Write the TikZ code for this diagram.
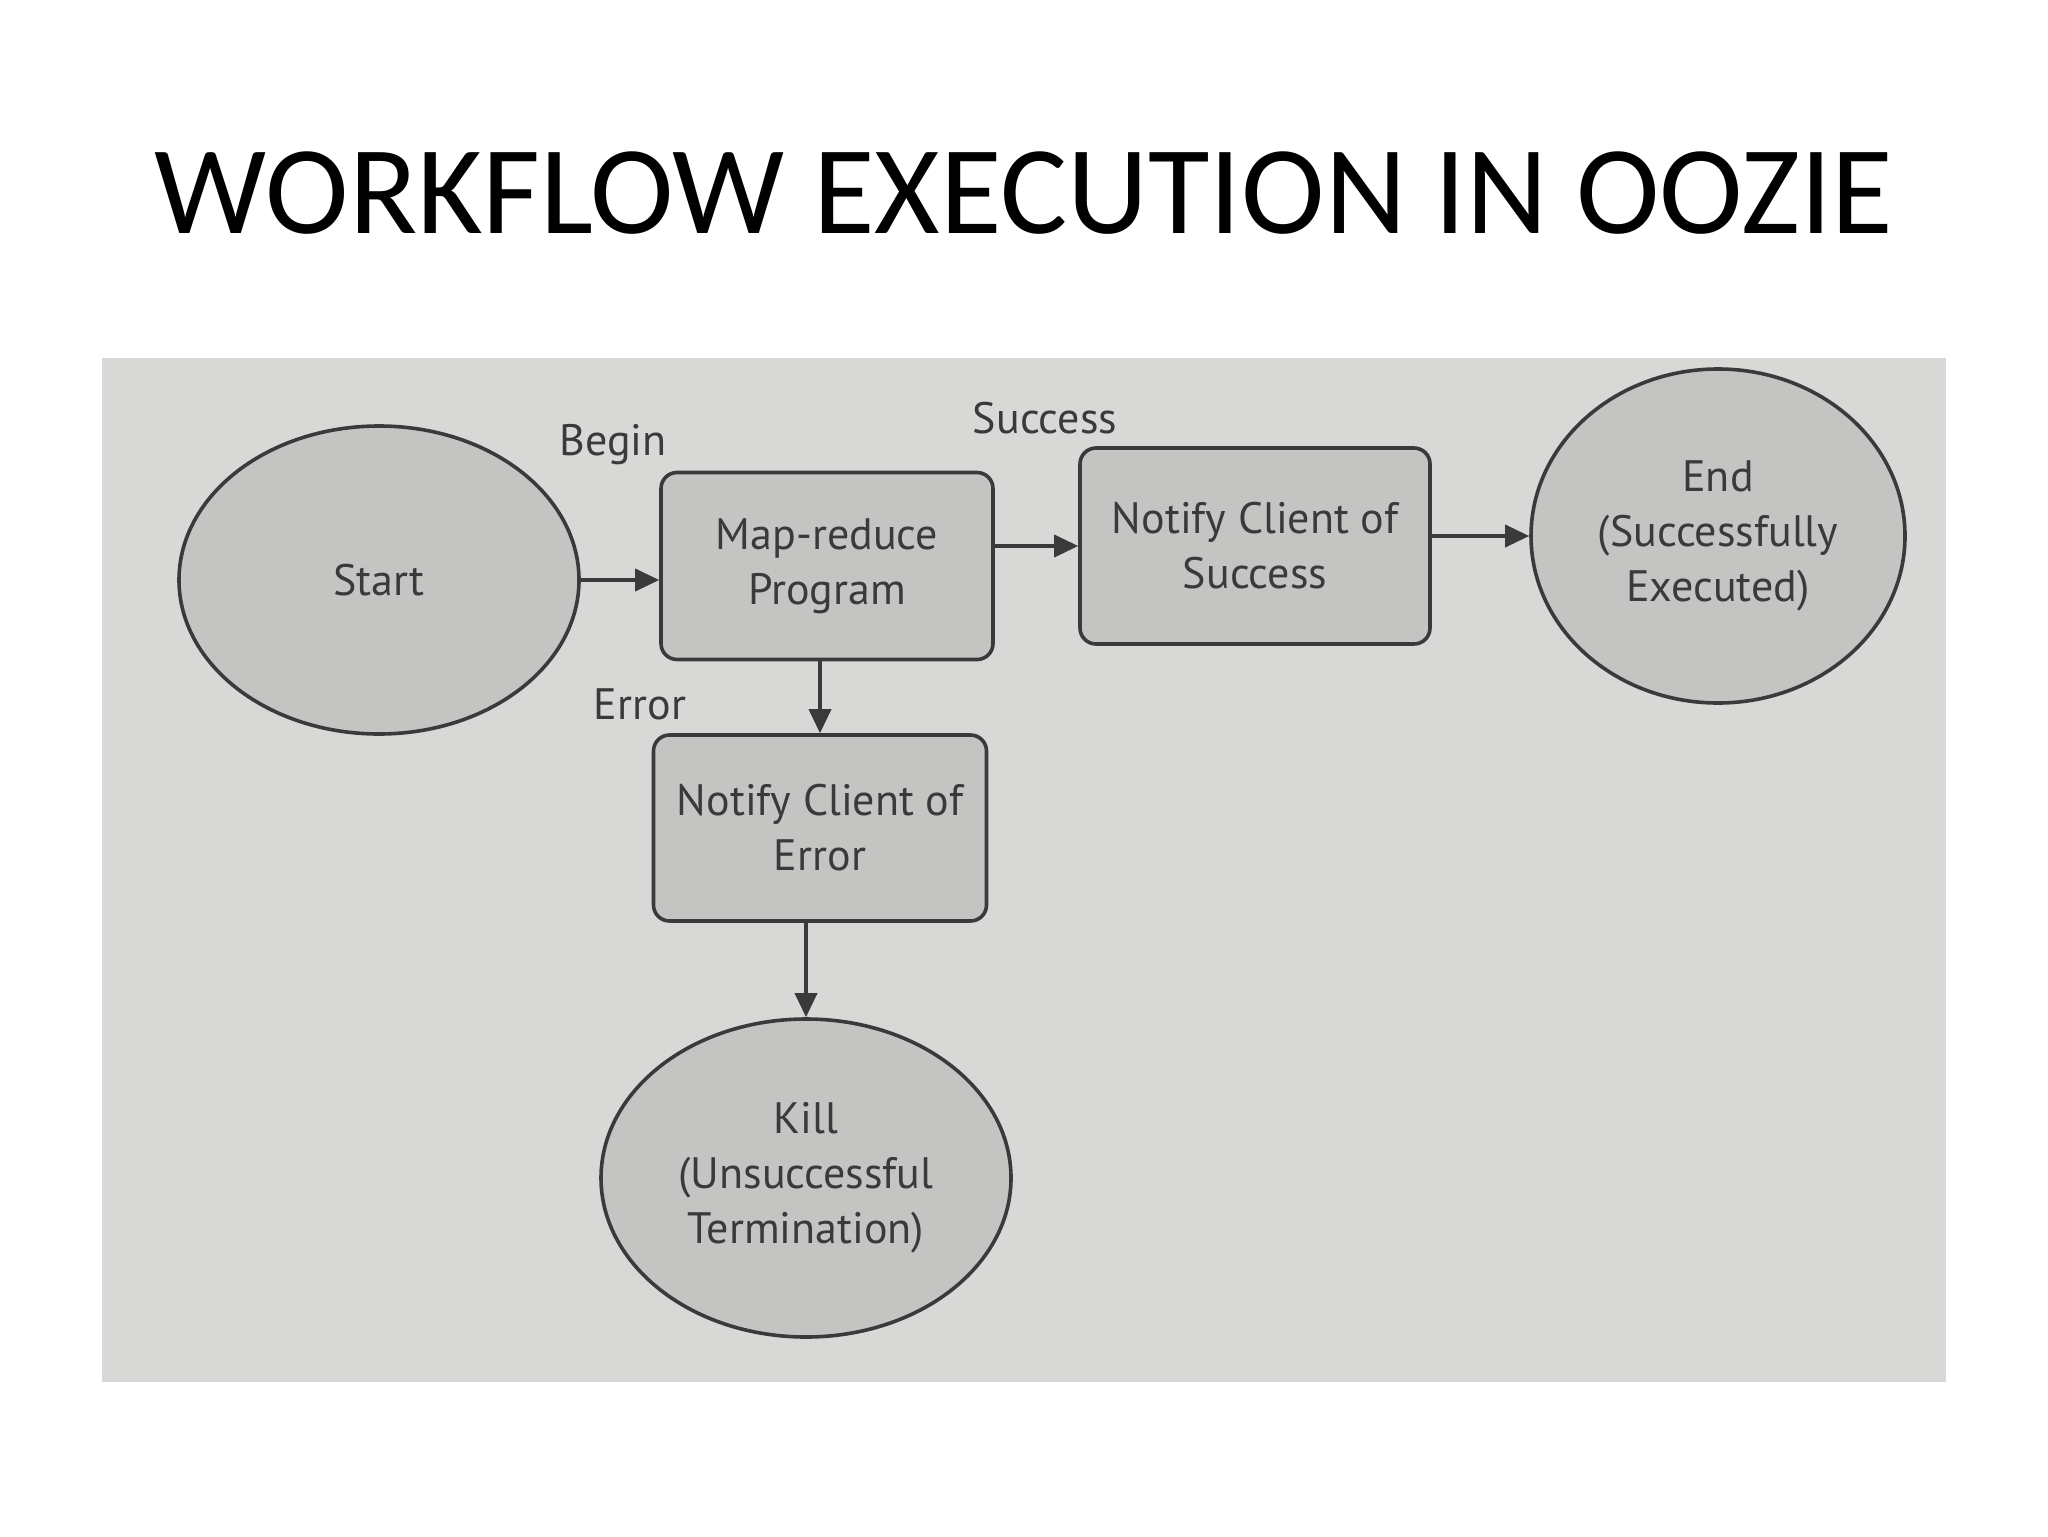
\documentclass[tikz,border=0pt]{standalone}
\usepackage{fontspec}
\setmainfont{PT Sans}
\newfontfamily\titlefont{Carlito}
\usetikzlibrary{arrows.meta,calc,shapes.geometric}
\definecolor{photo}{HTML}{D8D8D6}
\definecolor{shapefill}{HTML}{C4C4C2}
\definecolor{ink}{HTML}{3A3A3A}
\tikzset{
  oval/.style={ellipse, draw=ink, line width=1.8pt, fill=shapefill, text=ink, align=center, font=\fontsize{22}{27.5}\selectfont, inner sep=0pt},
  procbox/.style={rectangle, rounded corners=8pt, draw=ink, line width=1.8pt, fill=shapefill, text=ink, align=center, font=\fontsize{22}{27.5}\selectfont, inner sep=0pt},
  lbl/.style={text=ink, font=\fontsize{22}{27.5}\selectfont, inner sep=0pt},
  arr/.style={draw=ink, line width=1.8pt, -{Triangle[length=12pt,width=11pt]}}
}
\begin{document}
\begin{tikzpicture}[x=0.5pt,y=-0.5pt]
\useasboundingbox (0,0) rectangle (2048,1536);
\fill[white] (0,0) rectangle (2048,1536);
\fill[photo] (102,358) rectangle (1946,1382);
\node[font=\titlefont\fontsize{63}{68}\selectfont, text=black] (title) at (1024,193) {WORKFLOW EXECUTION IN OOZIE};
\node[oval, minimum width=400pt*0.5, minimum height=308pt*0.5] (start) at (379,580) {Start};
\node[procbox, minimum width=332pt*0.5, minimum height=187pt*0.5] (map) at (827,566) {Map-reduce\\Program};
\node[procbox, minimum width=350pt*0.5, minimum height=196pt*0.5] (ns) at (1255,546) {Notify Client of\\Success};
\node[oval, minimum width=374pt*0.5, minimum height=334pt*0.5] (end) at (1718,536) {End\\(Successfully\\Executed)};
\node[procbox, minimum width=333pt*0.5, minimum height=186pt*0.5] (err) at (820,828) {Notify Client of\\Error};
\node[oval, minimum width=410pt*0.5, minimum height=318pt*0.5] (kill) at (806,1178) {Kill\\(Unsuccessful\\Termination)};
\node[lbl] (begin) at (613,445) {Begin};
\node[lbl] (succ) at (1045,418) {Success};
\node[lbl] (errl) at (640,704) {Error};
\draw[arr] (start.east) -- (start.east -| map.west);
\draw[arr] (ns.west -| map.east) -- (ns.west);
\draw[arr] (ns.east |- end.west) -- (end.west);
\draw[arr] (err.north |- map.south) -- (err.north);
\draw[arr] (kill.north |- err.south) -- (kill.north);
\end{tikzpicture}
\end{document}
